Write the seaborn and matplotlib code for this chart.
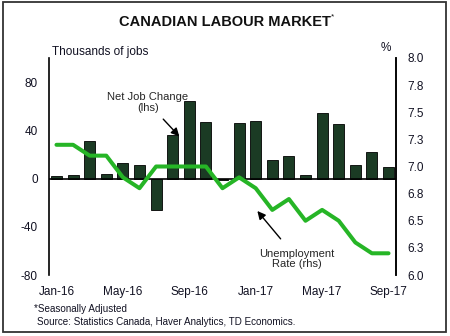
import numpy as np
import pandas as pd
import matplotlib
matplotlib.use("Agg")
import matplotlib.pyplot as plt
from matplotlib.patches import Rectangle
import seaborn as sns

months = ["Jan-16", "Feb-16", "Mar-16", "Apr-16", "May-16", "Jun-16", "Jul-16",
          "Aug-16", "Sep-16", "Oct-16", "Nov-16", "Dec-16", "Jan-17", "Feb-17",
          "Mar-17", "Apr-17", "May-17", "Jun-17", "Jul-17", "Aug-17", "Sep-17"]
job_change = [2, 3, 31, 4, 13, 11, -26, 36, 64, 47, -1, 46, 48, 15, 19, 3, 54, 45, 11, 22, 10]
unemp_rate = [7.2, 7.2, 7.1, 7.1, 6.9, 6.8, 7.0, 7.0, 7.0, 7.0, 6.8, 6.9, 6.8, 6.6,
              6.7, 6.5, 6.6, 6.5, 6.3, 6.2, 6.2]
tick_labels = ["Jan-16", "May-16", "Sep-16", "Jan-17", "May-17", "Sep-17"]
left_ticks = [-80, -40, 0, 40, 80]
right_ticks = [6.0, 6.25, 6.5, 6.75, 7.0, 7.25, 7.5, 7.75, 8.0]
right_tick_labels = ["6.0", "6.3", "6.5", "6.8", "7.0", "7.3", "7.5", "7.8", "8.0"]

sns.set_theme(style="white")
plt.rcParams["font.family"] = ["Liberation Sans", "DejaVu Sans"]

df = pd.DataFrame({"month": months, "jobs": job_change, "ur": unemp_rate,
                   "pos": np.arange(len(months))})

fig = plt.figure(figsize=(4.5, 3.36), dpi=100)
ax = fig.add_axes([49/450, 1-275/336, (396-49)/450, (275-58)/336])

sns.barplot(data=df, x="month", y="jobs", ax=ax, color="#1b3b24", saturation=1,
            width=0.66, edgecolor="black", linewidth=0.6)
ax.axhline(0, color="black", lw=1.2, zorder=3)
ax.set_ylim(-80, 100)
ax.set_xlim(-0.45, 20.45)
ax.set_yticks(left_ticks)
ax.set_yticklabels([str(v) for v in left_ticks])
ax.set_xticks([months.index(t) for t in tick_labels])
ax.set_xticklabels(tick_labels)
ax.set_xlabel("")
ax.set_ylabel("")
ax.tick_params(axis="both", length=0, labelsize=8.5, colors="#111122")
ax.tick_params(axis="y", pad=8)
ax.tick_params(axis="x", pad=8)
for s in ["top", "bottom"]:
    ax.spines[s].set_visible(False)
ax.spines["left"].set_color("black")
ax.spines["left"].set_linewidth(1.2)

ax2 = ax.twinx()
sns.lineplot(data=df, x="pos", y="ur", ax=ax2, color="#26b526", lw=2.9)
ax2.set_ylim(6.0, 8.0)
ax2.set_yticks(right_ticks)
ax2.set_yticklabels(right_tick_labels)
ax2.set_ylabel("")
ax2.set_xlabel("")
ax2.tick_params(axis="y", length=0, labelsize=8.5, pad=8, colors="#111122")
for s in ["top", "bottom", "left"]:
    ax2.spines[s].set_visible(False)
ax2.spines["right"].set_color("black")
ax2.spines["right"].set_linewidth(1.2)
ax2.set_xlim(-0.45, 20.45)

# annotations
ax.annotate("Net Job Change\n(lhs)", xy=(7.4, 35), xytext=(5.5, 63),
            ha="center", va="center", fontsize=8, linespacing=1.05,
            arrowprops=dict(arrowstyle="-|>", color="black", lw=1.0,
                            mutation_scale=12, shrinkA=3, shrinkB=0))
ax2.annotate("Unemployment\nRate (rhs)", xy=(12.1, 6.59), xytext=(14.5, 6.15),
             ha="center", va="center", fontsize=8, linespacing=1.05,
             arrowprops=dict(arrowstyle="-|>", color="black", lw=1.0,
                             mutation_scale=12, shrinkA=6, shrinkB=0))

# texts
fig.text(225/450, 1-22/336, "CANADIAN LABOUR MARKET", ha="center", va="center",
         fontsize=10.5, fontweight="bold", color="#111111")
fig.text(331/450, 1-17/336, "*", ha="left", va="center", fontsize=6, color="#111111")
fig.text(52/450, 1-52/336, "Thousands of jobs", ha="left", va="center",
         fontsize=8.5, color="#111122")
fig.text(386/450, 1-48/336, "%", ha="center", va="center", fontsize=8.5, color="#111122")
fig.text(34/450, 1-309/336, "*Seasonally Adjusted", ha="left", va="center",
         fontsize=7.1, color="#111122")
fig.text(37/450, 1-322/336, "Source: Statistics Canada, Haver Analytics, TD Economics.",
         ha="left", va="center", fontsize=7.1, color="#111122")

fig.patches.append(Rectangle((3/450, 1-332/336), 443/450, 330/336, transform=fig.transFigure,
                             fill=False, edgecolor="#333333", lw=1.3))

fig.savefig("out.png", dpi=100)
